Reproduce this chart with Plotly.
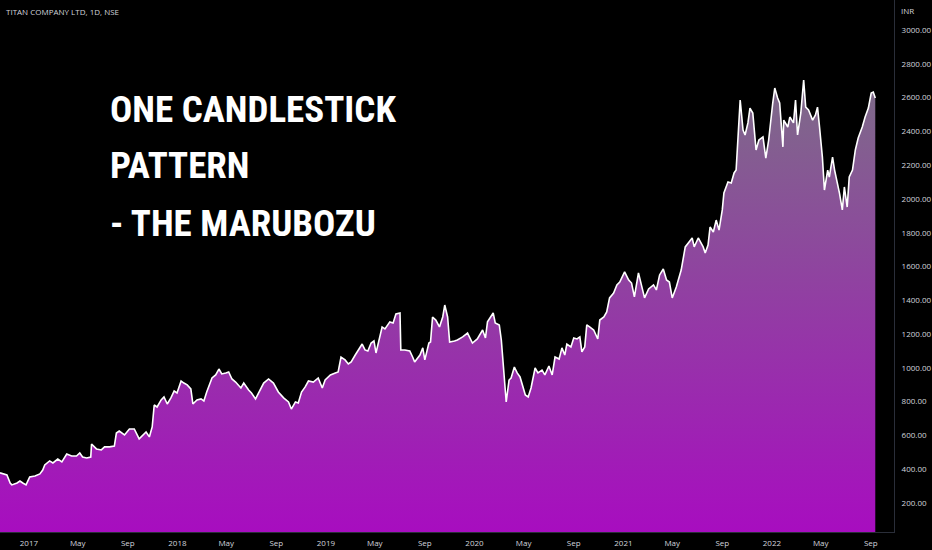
import plotly.graph_objects as go

# ---- data ----
dates = [
    "2016-10-22", "2016-11-08", "2016-11-16", "2016-11-20", "2016-12-03", "2016-12-10", "2016-12-17", "2016-12-25",
    "2017-01-03", "2017-01-16", "2017-01-28", "2017-02-04", "2017-02-09", "2017-02-21", "2017-03-01", "2017-03-13",
    "2017-03-23", "2017-04-04", "2017-04-16", "2017-04-28", "2017-05-06", "2017-05-13", "2017-05-23", "2017-06-02",
    "2017-06-04", "2017-06-16", "2017-06-28", "2017-07-06", "2017-07-18", "2017-07-30", "2017-08-04", "2017-08-11",
    "2017-08-24", "2017-09-05", "2017-09-17", "2017-09-29", "2017-10-16", "2017-10-24", "2017-10-31", "2017-11-05",
    "2017-11-12", "2017-11-22", "2017-11-29", "2017-12-07", "2017-12-16", "2017-12-24", "2017-12-31",
    "2018-01-10", "2018-01-17", "2018-01-25", "2018-02-03", "2018-02-08", "2018-02-18", "2018-02-28", "2018-03-07",
    "2018-03-14", "2018-03-27", "2018-04-05", "2018-04-13", "2018-04-20", "2018-04-30", "2018-05-07", "2018-05-15",
    "2018-05-24", "2018-06-06", "2018-06-13", "2018-06-25", "2018-07-02", "2018-07-12", "2018-07-20", "2018-08-01",
    "2018-08-13", "2018-08-25", "2018-09-06", "2018-09-19", "2018-10-01", "2018-10-08", "2018-10-18", "2018-10-25",
    "2018-11-02", "2018-11-11", "2018-11-19", "2018-12-01", "2018-12-13", "2018-12-23", "2018-12-30",
    "2019-01-12", "2019-01-24", "2019-01-31", "2019-02-07", "2019-02-17", "2019-02-25", "2019-03-04", "2019-03-14",
    "2019-03-21", "2019-03-31", "2019-04-07", "2019-04-14", "2019-04-22", "2019-04-29", "2019-05-04", "2019-05-14",
    "2019-05-19", "2019-05-26", "2019-06-07", "2019-06-15", "2019-06-22", "2019-07-02", "2019-07-04", "2019-07-14",
    "2019-07-26", "2019-08-02", "2019-08-07", "2019-08-20", "2019-08-27", "2019-09-01", "2019-09-11", "2019-09-15",
    "2019-09-20", "2019-09-28", "2019-10-07", "2019-10-15", "2019-10-20", "2019-10-27", "2019-11-01", "2019-11-13",
    "2019-11-20", "2019-12-03", "2019-12-15", "2019-12-27",
    "2020-01-08", "2020-01-21", "2020-01-28", "2020-02-02", "2020-02-09", "2020-02-16", "2020-02-21", "2020-03-02",
    "2020-03-07", "2020-03-14", "2020-03-19", "2020-03-26", "2020-03-31", "2020-04-08", "2020-04-15", "2020-04-22",
    "2020-04-30", "2020-05-05", "2020-05-12", "2020-05-19", "2020-05-29", "2020-06-05", "2020-06-15", "2020-06-22",
    "2020-07-02", "2020-07-10", "2020-07-17", "2020-07-27", "2020-08-03", "2020-08-10", "2020-08-15", "2020-08-25",
    "2020-09-01", "2020-09-09", "2020-09-16", "2020-09-21", "2020-09-28", "2020-10-03", "2020-10-10", "2020-10-20",
    "2020-10-30", "2020-11-04", "2020-11-14", "2020-11-21", "2020-11-28", "2020-12-08", "2020-12-16", "2020-12-23",
    "2021-01-04", "2021-01-14", "2021-01-21", "2021-01-28", "2021-02-07", "2021-02-17", "2021-02-22", "2021-03-04",
    "2021-03-16", "2021-03-23", "2021-03-31", "2021-04-09", "2021-04-17", "2021-04-24", "2021-05-01", "2021-05-11",
    "2021-05-23", "2021-06-02", "2021-06-09", "2021-06-19", "2021-06-24", "2021-07-04", "2021-07-16", "2021-07-21",
    "2021-07-28", "2021-08-02", "2021-08-10", "2021-08-17", "2021-08-24", "2021-09-01", "2021-09-05", "2021-09-15",
    "2021-09-23", "2021-09-30", "2021-10-05", "2021-10-10", "2021-10-15", "2021-10-22", "2021-10-27", "2021-11-03",
    "2021-11-08", "2021-11-15", "2021-11-20", "2021-11-23", "2021-11-30", "2021-12-10", "2021-12-17", "2021-12-24",
    "2022-01-03", "2022-01-08", "2022-01-15", "2022-01-20", "2022-01-28", "2022-01-30", "2022-02-09", "2022-02-14",
    "2022-02-23", "2022-02-28", "2022-03-05", "2022-03-13", "2022-03-20", "2022-03-25", "2022-04-01", "2022-04-11",
    "2022-04-18", "2022-04-23", "2022-04-28", "2022-05-05", "2022-05-10", "2022-05-18", "2022-05-22", "2022-05-30",
    "2022-06-04", "2022-06-11", "2022-06-16", "2022-06-23", "2022-06-28", "2022-07-05", "2022-07-10", "2022-07-18",
    "2022-07-25", "2022-08-01", "2022-08-11", "2022-08-18", "2022-08-26", "2022-09-02", "2022-09-07", "2022-09-12",
]

prices = [
    378, 366, 318, 307, 318, 330, 318, 307,
    354, 360, 372, 395, 425, 449, 437, 460,
    443, 490, 478, 478, 496, 472, 466, 472,
    549, 520, 514, 532, 532, 537, 614, 626,
    603, 638, 638, 579, 620, 591, 650, 780,
    768, 810, 828, 786, 822, 863, 851,
    922, 910, 899, 875, 786, 810, 816, 804,
    857, 940, 958, 993, 964, 970, 976, 934,
    916, 881, 910, 869, 851, 816, 851, 910,
    934, 910, 857, 822, 798, 756, 798, 792,
    857, 887, 922, 916, 940, 881, 928,
    958, 970, 976, 1064, 1047, 1023, 1035, 1076,
    1106, 1141, 1106, 1100, 1147, 1159, 1088, 1183,
    1242, 1230, 1272, 1266, 1319, 1325, 1106, 1106,
    1100, 1064, 1035, 1076, 1118, 1047, 1147, 1153,
    1301, 1283, 1242, 1301, 1372, 1301, 1153, 1159,
    1165, 1183, 1206, 1147,
    1171, 1224, 1177, 1272, 1295, 1325, 1266, 1254,
    1165, 946, 798, 928, 940, 1005, 970, 946,
    869, 839, 828, 881, 999, 970, 987, 958,
    1011, 958, 1064, 1052, 1118, 1076, 1141, 1124,
    1177, 1171, 1183, 1094, 1124, 1254, 1242, 1224,
    1171, 1283, 1301, 1331, 1414, 1443, 1491, 1508,
    1568, 1520, 1502, 1420, 1562, 1461, 1414, 1467,
    1491, 1461, 1550, 1585, 1520, 1508, 1414, 1479,
    1579, 1716, 1739, 1769, 1716, 1769, 1716, 1680,
    1727, 1834, 1804, 1875, 1816, 1935, 2035, 2100,
    2094, 2154, 2171, 2367, 2586, 2408, 2379, 2450,
    2538, 2509, 2390, 2290, 2349, 2367, 2242, 2349,
    2568, 2657, 2598, 2568, 2308, 2467, 2426, 2485,
    2450, 2586, 2379, 2509, 2704, 2544, 2527, 2467,
    2497, 2544, 2426, 2248, 2053, 2171, 2130, 2248,
    2171, 2100, 2035, 1935, 2071, 1952, 2130, 2171,
    2290, 2361, 2426, 2485, 2538, 2627, 2633, 2598,
]

x_tick_dates = ["2017-01-01", "2017-05-01", "2017-09-01", "2018-01-01", "2018-05-01", "2018-09-01",
                "2019-01-01", "2019-05-01", "2019-09-01", "2020-01-01", "2020-05-01", "2020-09-01",
                "2021-01-01", "2021-05-01", "2021-09-01", "2022-01-01", "2022-05-01", "2022-09-01"]
x_tick_labels = ["2017", "May", "Sep", "2018", "May", "Sep", "2019", "May", "Sep",
                 "2020", "May", "Sep", "2021", "May", "Sep", "2022", "May", "Sep"]

symbol_label = "TITAN COMPANY LTD, 1D, NSE"
currency_label = "INR"
headline = ["ONE CANDLESTICK", "PATTERN", "- THE MARUBOZU"]

# ---- figure ----
fig = go.Figure()
fig.add_trace(go.Scatter(
    x=dates, y=prices, mode="lines",
    line=dict(color="#ffffff", width=1.6),
    fill="tozeroy",
    fillgradient=dict(type="vertical",
                      colorscale=[[0, "#a80cc0"], [1, "#7d6c88"]],
                      start=0, stop=2700),
    hoverinfo="skip",
))

axis_font = dict(family="Open Sans, Noto Sans, sans-serif", size=8, color="#d1d4dc")

fig.update_layout(
    width=932, height=550,
    paper_bgcolor="#000000", plot_bgcolor="#000000",
    margin=dict(l=0, r=33, t=0, b=18),
    showlegend=False,
    xaxis=dict(
        range=["2016-10-22", "2022-10-28"],
        tickmode="array", tickvals=x_tick_dates, ticktext=x_tick_labels,
        tickfont=axis_font, showgrid=False, zeroline=False,
        showline=True, linecolor="#2a2e39", linewidth=1, ticks="",
        ticklabelstandoff=3,
    ),
    yaxis=dict(
        side="right", range=[28, 3178], dtick=200, tick0=0,
        tickformat=".2f", tickfont=axis_font, showgrid=False, zeroline=False,
        showline=True, linecolor="#2a2e39", linewidth=1, ticks="",
        ticklabelstandoff=5,
    ),
)

fig.add_annotation(text=symbol_label, xref="paper", yref="paper", x=0.004, y=1,
                   yshift=-4, xanchor="left", yanchor="top", showarrow=False,
                   font=dict(family="Open Sans, Noto Sans, sans-serif", size=8, color="#d1d4dc"))
fig.add_annotation(text=currency_label, xref="paper", yref="paper", x=1.006, y=1,
                   yshift=-3, xanchor="left", yanchor="top", showarrow=False,
                   font=dict(family="Open Sans, Noto Sans, sans-serif", size=8, color="#d1d4dc"))

head_font = dict(family="Roboto Condensed, Liberation Sans Narrow, DejaVu Sans Condensed, sans-serif",
                 size=37, color="#ffffff", weight="bold")
for i, line in enumerate(headline):
    fig.add_annotation(text=line, xref="paper", yref="paper", x=0.1212, y=1 - (109 + 57 * i) / 532,
                       xanchor="left", yanchor="middle", showarrow=False, font=head_font)

fig.write_html("out.html", config={"displayModeBar": False},
               post_script="document.body.style.margin='0';document.body.style.background='#000';")
